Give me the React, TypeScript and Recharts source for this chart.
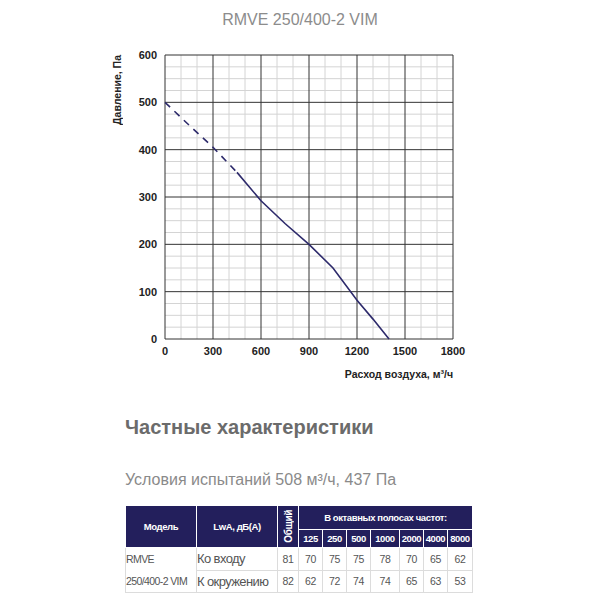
import React from "react";
import {
  LineChart,
  Line,
  XAxis,
  YAxis,
  ReferenceLine,
} from "recharts";

// fan curve (m3/h, Pa)
const flowDashed = [0, 150, 300, 450];
const pressureDashed = [500, 452, 405, 352];
const flowSolid = [450, 600, 750, 900, 1050, 1200, 1300, 1400];
const pressureSolid = [352, 292, 244, 200, 150, 82, 42, 0];

const xTicks = [0, 300, 600, 900, 1200, 1500, 1800];
const yTicks = [0, 100, 200, 300, 400, 500, 600];
const xMinor = [100, 200, 400, 500, 700, 800, 1000, 1100, 1300, 1400, 1600, 1700];
const yMinor = [25, 50, 75, 125, 150, 175, 225, 250, 275, 325, 350, 375, 425, 450, 475, 525, 550, 575];

// noise table
const bands = ["125", "250", "500", "1000", "2000", "4000", "8000"];
const rowLabels = ["Ко входу", "К окружению"];
const totals = [81, 82];
const inletLevels = [70, 75, 75, 78, 70, 65, 62];
const surroundLevels = [62, 72, 74, 74, 65, 63, 53];

const toPoints = (xs: number[], ys: number[]) =>
  xs.map((x, i) => ({ flow: x, pressure: ys[i] }));

const font = "'Liberation Sans', Arial, sans-serif";
const navy = "#231f5c";
const lineColor = "#2d2a6b";

const headCell: React.CSSProperties = {
  background: navy,
  color: "#fff",
  fontWeight: "bold",
  fontSize: 9.5,
  letterSpacing: -0.4,
  textAlign: "center",
  border: "1px solid #fff",
  padding: 0,
};

const bodyCell: React.CSSProperties = {
  color: "#555",
  fontSize: 10.5,
  letterSpacing: -0.3,
  textAlign: "center",
  border: "1px solid #dcdcdc",
  padding: 0,
  height: 21,
};

export default function App() {
  const tick = { fontSize: 11, fontWeight: "bold", fill: "#222", fontFamily: font };
  const levels = [inletLevels, surroundLevels];

  return (
    <div
      style={{
        position: "absolute",
        left: 0,
        top: 0,
        width: 600,
        height: 600,
        background: "#fff",
        fontFamily: font,
        overflow: "hidden",
      }}
    >
      <div
        style={{
          position: "absolute",
          top: 11,
          left: 0,
          width: 600,
          textAlign: "center",
          fontSize: 16,
          color: "#8c8c8c",
        }}
      >
        RMVE 250/400-2 VIM
      </div>

      <div style={{ position: "absolute", left: 0, top: 0 }}>
        <LineChart
          width={600}
          height={400}
          margin={{ top: 55, right: 147, bottom: 31, left: 125 }}
        >
          <XAxis
            dataKey="flow"
            type="number"
            domain={[0, 1800]}
            ticks={xTicks}
            axisLine={false}
            tickLine={false}
            tick={tick}
            height={30}
            allowDuplicatedCategory={false}
          />
          <YAxis
            dataKey="pressure"
            type="number"
            domain={[0, 600]}
            ticks={yTicks}
            axisLine={false}
            tickLine={false}
            tick={tick}
            width={40}
          />
          {xMinor.map((v) => (
            <ReferenceLine key={"xm" + v} x={v} stroke="#d4d4d4" strokeWidth={1} />
          ))}
          {yMinor.map((v) => (
            <ReferenceLine key={"ym" + v} y={v} stroke="#d4d4d4" strokeWidth={1} />
          ))}
          {xTicks.map((v) => (
            <ReferenceLine key={"x" + v} x={v} stroke="#333" strokeWidth={1} />
          ))}
          {yTicks.map((v) => (
            <ReferenceLine key={"y" + v} y={v} stroke="#333" strokeWidth={1} />
          ))}
          <Line
            data={toPoints(flowDashed, pressureDashed)}
            dataKey="pressure"
            stroke={lineColor}
            strokeWidth={1.6}
            strokeDasharray="7 6"
            dot={false}
            isAnimationActive={false}
          />
          <Line
            data={toPoints(flowSolid, pressureSolid)}
            dataKey="pressure"
            stroke={lineColor}
            strokeWidth={1.6}
            dot={false}
            isAnimationActive={false}
          />
        </LineChart>
      </div>

      <div
        style={{
          position: "absolute",
          left: 111,
          top: 55,
          writingMode: "vertical-rl",
          transform: "rotate(180deg)",
          fontSize: 10.5,
          fontWeight: "bold",
          color: "#222",
        }}
      >
        Давление, Па
      </div>
      <div
        style={{
          position: "absolute",
          right: 147,
          top: 368,
          fontSize: 10.5,
          fontWeight: "bold",
          color: "#222",
        }}
      >
        Расход воздуха, м³/ч
      </div>

      <div
        style={{
          position: "absolute",
          left: 125,
          top: 416,
          fontSize: 20,
          fontWeight: "bold",
          color: "#6b6b6b",
        }}
      >
        Частные характеристики
      </div>
      <div
        style={{
          position: "absolute",
          left: 125,
          top: 471,
          fontSize: 16,
          color: "#8a8a8a",
        }}
      >
        Условия испытаний 508 м³/ч, 437 Па
      </div>

      <table
        style={{
          position: "absolute",
          left: 125,
          top: 505,
          width: 346,
          borderCollapse: "collapse",
          tableLayout: "fixed",
        }}
      >
        <colgroup>
          <col style={{ width: 71 }} />
          <col style={{ width: 81 }} />
          <col style={{ width: 21 }} />
          <col style={{ width: 24 }} />
          <col style={{ width: 24 }} />
          <col style={{ width: 24 }} />
          <col style={{ width: 29 }} />
          <col style={{ width: 24 }} />
          <col style={{ width: 24 }} />
          <col style={{ width: 25 }} />
        </colgroup>
        <tbody>
          <tr style={{ height: 24 }}>
            <td rowSpan={2} style={headCell}>Модель</td>
            <td rowSpan={2} style={headCell}>LwA, дБ(A)</td>
            <td rowSpan={2} style={headCell}>
              <div
                style={{
                  writingMode: "vertical-rl",
                  transform: "rotate(180deg)",
                  margin: "0 auto",
                  fontSize: 10,
                }}
              >
                Общий
              </div>
            </td>
            <td colSpan={7} style={headCell}>В октавных полосах частот:</td>
          </tr>
          <tr style={{ height: 18 }}>
            {bands.map((b) => (
              <td key={b} style={headCell}>{b}</td>
            ))}
          </tr>
          {rowLabels.map((label, r) => (
            <tr key={label} style={{ height: 22 }}>
              {r === 0 && (
                <td
                  rowSpan={2}
                  style={{
                    ...bodyCell,
                    textAlign: "left",
                    lineHeight: "22px",
                    letterSpacing: -0.6,
                  }}
                >
                  RMVE
                  <br />
                  250/400-2 VIM
                </td>
              )}
              <td
                style={{
                  ...bodyCell,
                  textAlign: "left",
                  fontSize: 13,
                  letterSpacing: -0.6,
                  whiteSpace: "nowrap",
                }}
              >
                {label}
              </td>
              <td style={bodyCell}>{totals[r]}</td>
              {levels[r].map((v, i) => (
                <td key={i} style={bodyCell}>{v}</td>
              ))}
            </tr>
          ))}
        </tbody>
      </table>
    </div>
  );
}
